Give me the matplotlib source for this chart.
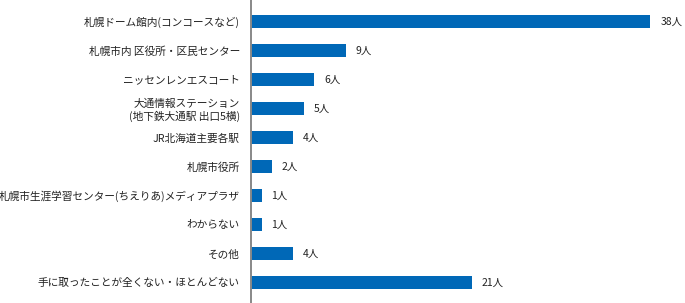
import matplotlib.pyplot as plt

plt.rcParams['font.family'] = ['Noto Sans CJK JP', 'DejaVu Sans']

# data
categories = [
    "札幌ドーム館内(コンコースなど)",
    "札幌市内 区役所・区民センター",
    "ニッセンレンエスコート",
    "大通情報ステーション\n(地下鉄大通駅 出口5横)",
    "JR北海道主要各駅",
    "札幌市役所",
    "札幌市生涯学習センター(ちえりあ)メディアプラザ",
    "わからない",
    "その他",
    "手に取ったことが全くない・ほとんどない",
]
counts = [38, 9, 6, 5, 4, 2, 1, 1, 4, 21]
unit = "人"

fig = plt.figure(figsize=(6.85, 3.03), dpi=100)
ax = fig.add_axes([251 / 685, 0, 434 / 685, 1])

pos = list(range(len(categories)))
ax.barh(pos, counts, height=0.45, color='#0068b7')

for p, c in zip(pos, counts):
    ax.text(c + 0.95, p, f"{c}{unit}", va='center', ha='left', fontsize=7.5, color='#222222')

ax.set_ylim(9.71, -0.74)
ax.set_xlim(0, 41.3)
ax.set_yticks(pos)
ax.set_yticklabels(categories, fontsize=7.7, color='#222222')
ax.tick_params(axis='y', length=0, pad=8)
ax.set_xticks([])

for s in ['top', 'right', 'bottom']:
    ax.spines[s].set_visible(False)
ax.spines['left'].set_color('#888888')
ax.spines['left'].set_linewidth(1.4)

fig.savefig("out.png", dpi=100)
